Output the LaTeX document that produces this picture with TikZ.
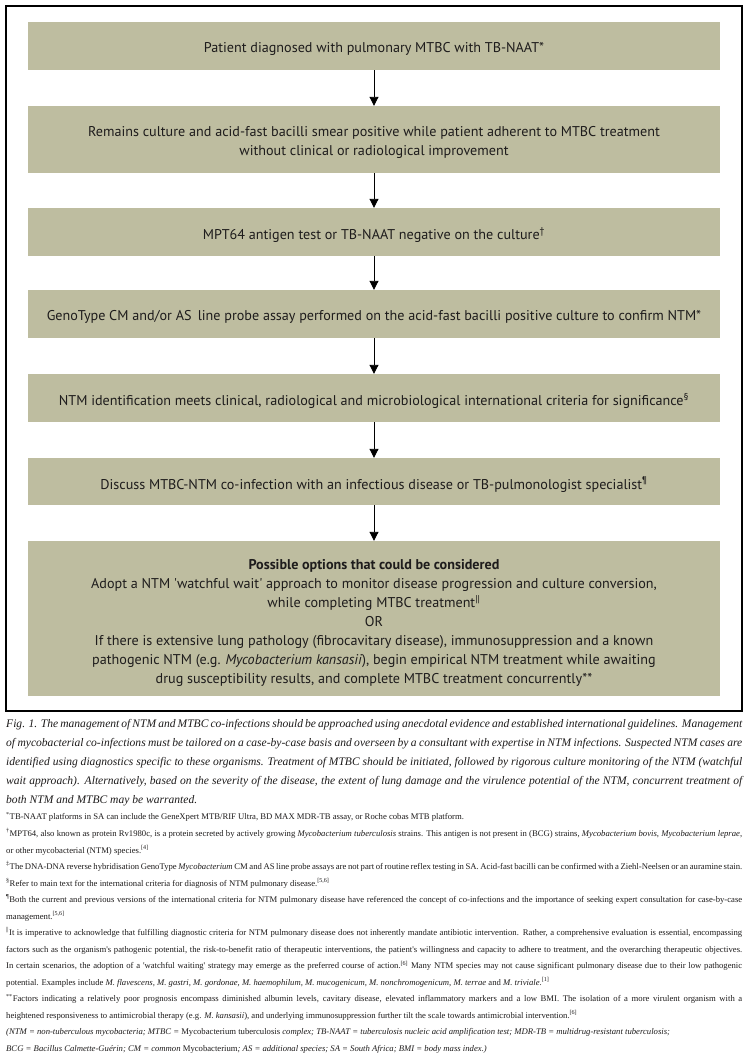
\documentclass[tikz,border=0pt]{standalone}
\usepackage{fontspec}
\setmainfont{Liberation Serif}
\newfontfamily\boxfont{PT Sans}
\usetikzlibrary{arrows.meta}
\definecolor{boxfill}{RGB}{190,189,160}
\definecolor{ink}{RGB}{30,28,28}
\newcommand{\fnsup}[1]{\textsuperscript{#1}}
\newcommand{\loosespaces}{\spaceskip=0.25em plus 0.35em minus 0.16em\relax\tolerance=9000\linepenalty=5000\hyphenpenalty=10000\exhyphenpenalty=10000\relax}
\begin{document}
\begin{tikzpicture}[x=1bp,y=-1bp,
  flowbox/.style={fill=boxfill, draw=none, minimum width=692bp, inner sep=0pt},
  boxtext/.style={align=center, inner sep=0pt, text=ink, yshift=-3bp,
    font=\boxfont\fontsize{14.2}{19}\selectfont},
  flowarrow/.style={-{Triangle[width=9bp,length=9bp]}, line width=0.9bp, draw=black},
  frameline/.style={draw=black, line width=1.2bp},
  textblock/.style={anchor=north west, inner sep=0pt, text=ink}]
\useasboundingbox (0,0) rectangle (748,1057);
\fill[white] (0,0) rectangle (748,1057);
\draw[frameline] (6,6) rectangle (742,711);

\node[flowbox, minimum height=48bp] (b1) at (374,46) {};
\node[flowbox, minimum height=67bp] (b2) at (374,139.5) {};
\node[flowbox, minimum height=48bp] (b3) at (374,232) {};
\node[flowbox, minimum height=48bp] (b4) at (374,314) {};
\node[flowbox, minimum height=48bp] (b5) at (374,398) {};
\node[flowbox, minimum height=47bp] (b6) at (374,481.5) {};
\node[flowbox, minimum height=155bp] (b7) at (374,618.5) {};

\node[boxtext] (t1) at (b1.center) {Patient diagnosed with pulmonary MTBC with TB-NAAT*};
\node[boxtext] (t2) at (b2.center) {Remains culture and acid-fast bacilli smear positive while patient adherent to MTBC treatment\\without clinical or radiological improvement};
\node[boxtext] (t3) at (b3.center) {MPT64 antigen test or TB-NAAT negative on the culture\fnsup{†}};
\node[boxtext] (t4) at (b4.center) {GenoType CM and/or AS\, line probe assay performed on the acid-fast bacilli positive culture to confirm NTM*};
\node[boxtext] (t5) at (b5.center) {NTM identification meets clinical, radiological and microbiological international criteria for significance\fnsup{§}};
\node[boxtext] (t6) at (b6.center) {Discuss MTBC-NTM co-infection with an infectious disease or TB-pulmonologist specialist\fnsup{¶}};
\node[boxtext, yshift=-1.5bp] (t7) at (b7.center) {\textbf{Possible options that could be considered}\\Adopt a NTM \textquotesingle watchful wait\textquotesingle\ approach to monitor disease progression and culture conversion,\\while completing MTBC treatment\fnsup{||}\\OR\\If there is extensive lung pathology (fibrocavitary disease), immunosuppression and a known\\pathogenic NTM (e.g. \textit{Mycobacterium kansasii}), begin empirical NTM treatment while awaiting\\drug susceptibility results, and complete MTBC treatment concurrently**};

\draw[flowarrow] (b1.south) -- (b2.north);
\draw[flowarrow] (b2.south) -- (b3.north);
\draw[flowarrow] (b3.south) -- (b4.north);
\draw[flowarrow] (b4.south) -- (b5.north);
\draw[flowarrow] (b5.south) -- (b6.north);
\draw[flowarrow] (b6.south) -- (b7.north);

\node[textblock] (cap) at (6,719) {\parbox[t]{736bp}{\fontsize{11.6}{19}\selectfont\itshape\loosespaces
Fig. 1. The management of NTM and MTBC co-infections should be approached using anecdotal evidence and established international guidelines. Management\linebreak
of mycobacterial co-infections must be tailored on a case-by-case basis and overseen by a consultant with expertise in NTM infections. Suspected NTM cases are\linebreak
identified using diagnostics specific to these organisms. Treatment of MTBC should be initiated, followed by rigorous culture monitoring of the NTM (watchful\linebreak
wait approach). Alternatively, based on the severity of the disease, the extent of lung damage and the virulence potential of the NTM, concurrent treatment of\linebreak
both NTM and MTBC may be warranted.}};

\node[textblock] (notes) at (6,812) {\parbox[t]{736bp}{\fontsize{8.7}{16.6}\selectfont\loosespaces
\fnsup{*}TB-NAAT platforms in SA can include the GeneXpert MTB/RIF Ultra, BD MAX MDR-TB assay, or Roche cobas MTB platform.\par
\fnsup{†}MPT64, also known as protein Rv1980c, is a protein secreted by actively growing \textit{Mycobacterium tuberculosis} strains. This antigen is not present in (BCG) strains, \textit{Mycobacterium bovis}, \textit{Mycobacterium leprae},\linebreak
or other mycobacterial (NTM) species.\fnsup{[4]}\par
\fnsup{‡}The DNA-DNA reverse hybridisation GenoType \textit{Mycobacterium} CM and AS line probe assays are not part of routine reflex testing in SA. Acid-fast bacilli can be confirmed with a Ziehl-Neelsen or an auramine~stain.\par
\fnsup{§}Refer to main text for the international criteria for diagnosis of NTM pulmonary disease.\fnsup{[5,6]}\par
\fnsup{¶}Both the current and previous versions of the international criteria for NTM pulmonary disease have referenced the concept of co-infections and the importance of seeking expert consultation for case-by-case\linebreak
management.\fnsup{[5,6]}\par
\fnsup{||}It is imperative to acknowledge that fulfilling diagnostic criteria for NTM pulmonary disease does not inherently mandate antibiotic intervention. Rather, a comprehensive evaluation is essential, encompassing\linebreak
factors such as the organism\textquotesingle s pathogenic potential, the risk-to-benefit ratio of therapeutic interventions, the patient\textquotesingle s willingness and capacity to adhere to treatment, and the overarching therapeutic objectives.\linebreak
In certain scenarios, the adoption of a \textquotesingle watchful waiting\textquotesingle\ strategy may emerge as the preferred course of action.\fnsup{[6]} Many NTM species may not cause significant pulmonary disease due to their low pathogenic\linebreak
potential. Examples include \textit{M. flavescens, M. gastri, M. gordonae, M. haemophilum, M. mucogenicum, M. nonchromogenicum, M. terrae} and \textit{M. triviale}.\fnsup{[1]}\par
\fnsup{**}Factors indicating a relatively poor prognosis encompass diminished albumin levels, cavitary disease, elevated inflammatory markers and a low BMI. The isolation of a more virulent organism with a\linebreak
heightened responsiveness to antimicrobial therapy (e.g. \textit{M. kansasii}), and underlying immunosuppression further tilt the scale towards antimicrobial intervention.\fnsup{[6]}\par
\textit{(NTM = non-tuberculous mycobacteria; MTBC =} Mycobacterium tuberculosis \textit{complex; TB-NAAT = tuberculosis nucleic acid amplification test; MDR-TB = multidrug-resistant tuberculosis;}\\
\textit{BCG = Bacillus Calmette-Guérin; CM = common} Mycobacterium\textit{; AS = additional species; SA = South Africa; BMI = body mass index.)}}};
\end{tikzpicture}
\end{document}
